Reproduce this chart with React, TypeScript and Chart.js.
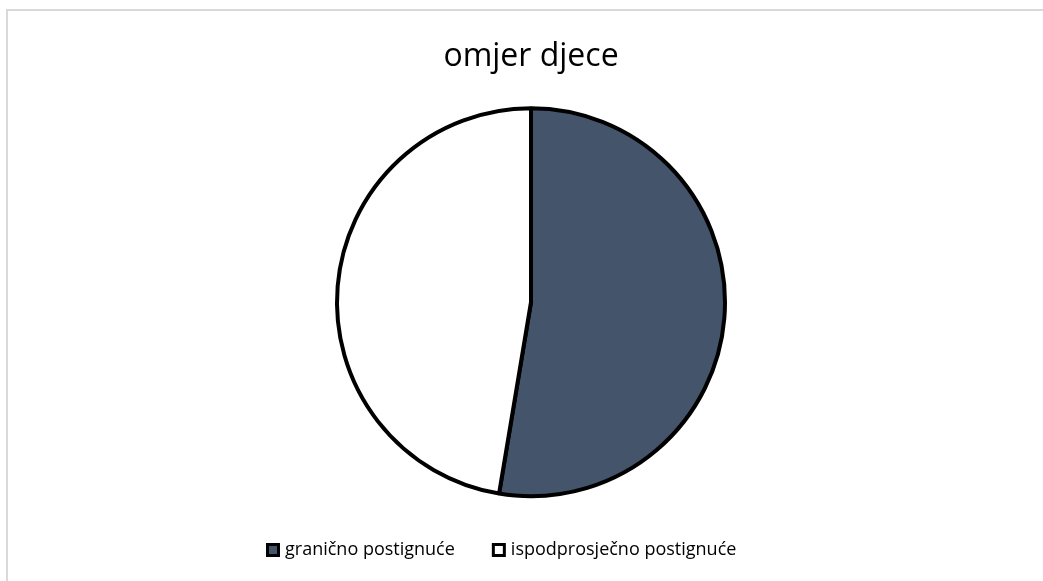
import React, { useEffect, useRef } from "react";
import { Chart, registerables } from "chart.js";

Chart.register(...registerables);

const TITLE = "omjer djece";
const categories = ["granično postignuće", "ispodprosječno postignuće"];
const values = [20, 18];
const colors = ["#44546A", "#FFFFFF"];

const FONT = "'Open Sans', 'Noto Sans', sans-serif";

const legendPlugin = {
  id: "customLegend",
  afterDraw(chart: any) {
    const ctx = chart.ctx;
    const ds = chart.data.datasets[0];
    const labels: string[] = chart.data.labels;
    const box = 14;
    const startX = 266;
    const midY = 550;
    const gapText = 5;
    const gapItem = 37;
    ctx.save();
    ctx.font = `18px ${FONT}`;
    ctx.textBaseline = "middle";
    ctx.textAlign = "left";
    let x = startX;
    labels.forEach((lab, i) => {
      const bg = (ds.backgroundColor as string[])[i];
      ctx.fillStyle = bg;
      ctx.fillRect(x, midY - box / 2, box, box);
      ctx.lineWidth = 3;
      ctx.strokeStyle = "#000";
      ctx.strokeRect(x + 1.5, midY - box / 2 + 1.5, box - 3, box - 3);
      ctx.fillStyle = "#000";
      const tx = x + box + gapText;
      ctx.fillText(lab, tx, midY);
      x = tx + ctx.measureText(lab).width + gapItem;
    });
    ctx.restore();
  },
};

export default function App() {
  const ref = useRef<HTMLCanvasElement | null>(null);
  useEffect(() => {
    if (!ref.current) return;
    const chart = new Chart(ref.current, {
      type: "pie",
      data: {
        labels: categories,
        datasets: [
          {
            data: values,
            backgroundColor: colors,
            borderColor: "#000000",
            borderWidth: 4,
            radius: 194,
          } as any,
        ],
      },
      options: {
        animation: false,
        responsive: false,
        maintainAspectRatio: false,
        layout: { padding: { left: 19, right: 0, top: 0, bottom: 63 } },
        plugins: {
          legend: { display: false },
          tooltip: { enabled: false },
          title: {
            display: true,
            text: TITLE,
            color: "#000",
            font: { family: FONT, size: 32, weight: "normal" },
            padding: { top: 38, bottom: 10 },
          },
        },
      },
      plugins: [legendPlugin],
    });
    return () => chart.destroy();
  }, []);
  return (
    <div
      style={{
        position: "fixed",
        left: 0,
        top: 0,
        width: 1043,
        height: 581,
        overflow: "hidden",
        background: "#fff",
      }}
    >
      <div
        style={{
          position: "absolute",
          left: 6,
          top: 9,
          width: 1200,
          height: 800,
          border: "2px solid #d9d9d9",
        }}
      />
      <canvas
        ref={ref}
        width={1043}
        height={581}
        style={{ position: "absolute", left: 0, top: 0, width: 1043, height: 581 }}
      />
    </div>
  );
}
